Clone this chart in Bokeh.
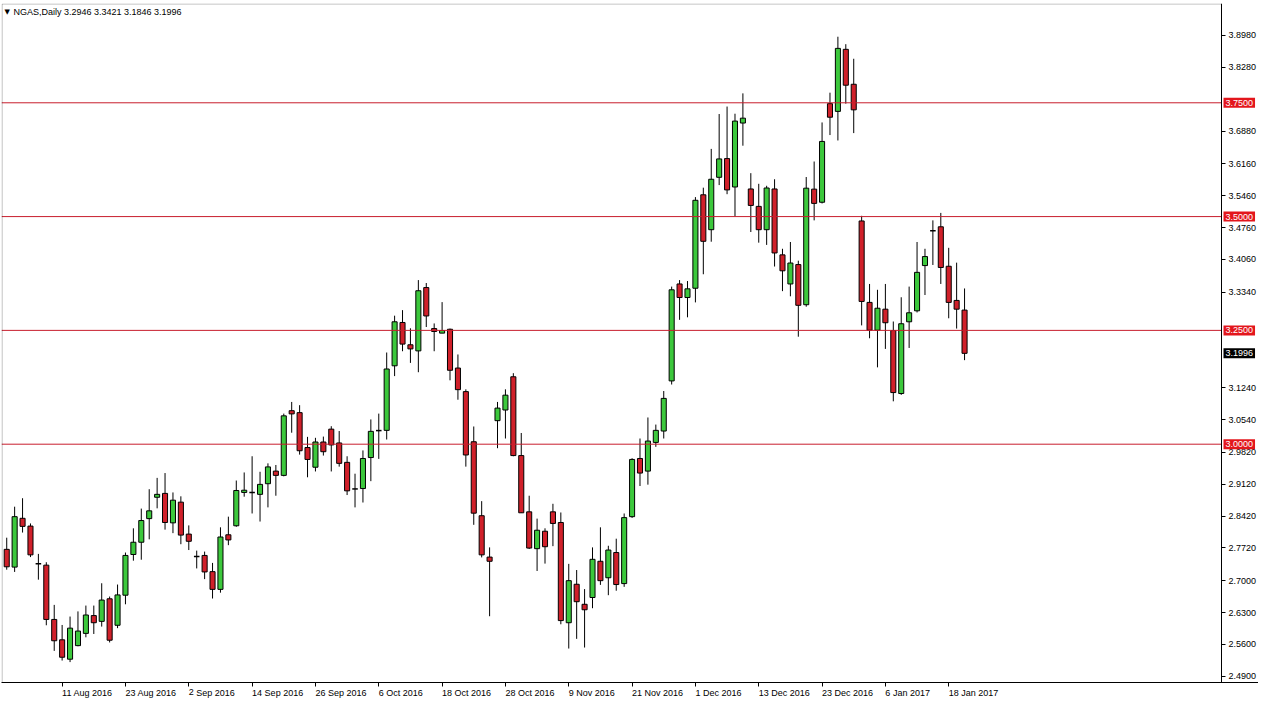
from bokeh.plotting import figure
from bokeh.models import (Label, FixedTicker, PrintfTickFormatter, ColumnDataSource,
                          Range1d, LinearAxis, BoxAnnotation)
from bokeh.embed import file_html
from bokeh.resources import INLINE

# ---- data (daily NGAS candles) ----
opens = [2.7690, 2.7300, 2.8372, 2.8201, 2.7371, 2.7343, 2.6150, 2.5703, 2.5277, 2.5575,
         2.5844, 2.6235, 2.6108, 2.6604, 2.6022, 2.6683, 2.7577, 2.7846, 2.8365, 2.8834,
         2.8919, 2.8272, 2.8727, 2.8025, 2.7535, 2.7556, 2.7200, 2.6811, 2.8010, 2.8208,
         2.8940, 2.8940, 2.8898, 2.9132, 2.9409, 2.9315, 3.0736, 3.0693, 2.9927, 2.9494,
         3.0048, 3.0331, 3.0027, 2.9601, 2.9017, 2.9026, 2.9707, 3.0299, 3.0304, 3.1722,
         3.2674, 3.2184, 3.2050, 3.3441, 3.2540, 3.2440, 3.2525, 3.1673, 3.1155, 3.0054,
         2.8429, 2.7520, 3.0517, 3.0751, 3.1481, 2.9750, 2.8514, 2.7705, 2.8088, 2.8514,
         2.8280, 2.6078, 2.6923, 2.6483, 2.6632, 2.7428, 2.7066, 2.7620, 2.6938, 2.8408,
         2.9686, 2.9409, 3.0039, 3.0289, 3.1390, 3.3520, 3.3222, 3.3426, 3.5479, 3.4712,
         3.5863, 3.6274, 3.5650, 3.7055, 3.5607, 3.5224, 3.4712, 3.5607, 3.4159, 3.3520,
         3.3946, 3.3064, 3.5603, 3.5315, 3.7481, 3.7311, 3.8674, 3.7907, 3.4904, 3.3115,
         3.2504, 3.2966, 3.2497, 3.1113, 3.2689, 3.2930, 3.3924, 3.4691, 3.4776, 3.3909,
         3.3158, 3.2946]
highs = [2.7946, 2.8627, 2.8813, 2.8259, 2.7590, 2.7407, 2.6470, 2.6029, 2.6214, 2.6327,
         2.6455, 2.6455, 2.6945, 2.6653, 2.6917, 2.7620, 2.8152, 2.8585, 2.9011, 2.9260,
         2.9366, 2.8940, 2.8855, 2.8216, 2.7662, 2.7641, 2.7392, 2.8174, 2.8408, 2.9202,
         2.9379, 2.9735, 2.9394, 2.9579, 2.9543, 3.0672, 3.0928, 3.0857, 3.0161, 3.0140,
         3.0167, 3.0395, 3.0289, 2.9735, 2.9352, 2.9863, 3.0544, 3.0672, 3.2014, 3.2823,
         3.2945, 3.2546, 3.3605, 3.3541, 3.2653, 3.3121, 3.2540, 3.1971, 3.1205, 3.0389,
         2.8749, 2.7733, 3.0928, 3.1205, 3.1560, 3.0246, 2.8868, 2.8365, 2.8152, 2.8691,
         2.8500, 2.7371, 2.7236, 2.6817, 2.7733, 2.8174, 2.7769, 2.7924, 2.8478, 2.9692,
         3.0125, 3.0587, 3.0431, 3.1168, 3.3462, 3.3605, 3.3584, 3.5428, 3.5635, 3.6487,
         3.7253, 3.7417, 3.7260, 3.7707, 3.5954, 3.5720, 3.5677, 3.5820, 3.4293, 3.4442,
         3.4031, 3.5869, 3.6210, 3.7068, 3.7722, 3.8951, 3.8787, 3.8467, 3.5017, 3.3520,
         3.3392, 3.3520, 3.2695, 3.3228, 3.3462, 3.4442, 3.4293, 3.4917, 3.5081, 3.4314,
         3.3988, 3.3421]
lows = [2.7243, 2.7194, 2.8059, 2.7520, 2.7024, 2.6022, 2.5460, 2.5247, 2.5213, 2.5560,
        2.5758, 2.5831, 2.5993, 2.5645, 2.5959, 2.6483, 2.7441, 2.7462, 2.7910, 2.8591,
        2.8123, 2.8046, 2.7803, 2.7675, 2.7271, 2.7036, 2.6610, 2.6738, 2.7782, 2.8186,
        2.8847, 2.8478, 2.8301, 2.8612, 2.8868, 2.9294, 3.0252, 2.9771, 2.9273, 2.9401,
        2.9750, 2.9401, 2.9507, 2.8883, 2.8612, 2.8719, 2.9188, 2.9677, 3.0103, 3.1496,
        3.2042, 3.1786, 3.1581, 3.2574, 3.2042, 3.2440, 3.1403, 3.0977, 2.9507, 2.8229,
        2.7513, 2.6221, 2.9912, 3.0125, 2.9735, 2.8493, 2.7697, 2.7215, 2.7377, 2.7760,
        2.6044, 2.5511, 2.5724, 2.5533, 2.6397, 2.6909, 2.6683, 2.6781, 2.6866, 2.8380,
        2.9081, 2.9111, 2.9942, 3.0125, 3.1311, 3.2732, 3.2787, 3.3115, 3.3733, 3.4448,
        3.5692, 3.5492, 3.5002, 3.6557, 3.4661, 3.4427, 3.4378, 3.3903, 3.3362, 3.3249,
        3.2361, 3.3021, 3.4917, 3.5288, 3.6791, 3.6672, 3.7481, 3.6834, 3.2610, 3.2327,
        3.1688, 3.2093, 3.0942, 3.1083, 3.2114, 3.2894, 3.3277, 3.3937, 3.3520, 3.2766,
        3.2540, 3.1846]
closes = [2.7307, 2.8408, 2.8195, 2.7569, 2.7371, 2.6150, 2.5682, 2.5320, 2.5959, 2.5895,
          2.6248, 2.6078, 2.6576, 2.5694, 2.6689, 2.7556, 2.7846, 2.8323, 2.8536, 2.8898,
          2.8280, 2.8770, 2.8003, 2.7867, 2.7535, 2.7194, 2.6811, 2.7961, 2.7897, 2.8983,
          2.8989, 2.8940, 2.9117, 2.9501, 2.9315, 3.0623, 3.0666, 2.9856, 2.9665, 3.0048,
          2.9835, 2.9984, 2.9579, 2.8975, 2.9017, 2.9686, 3.0282, 3.0299, 3.1652, 3.2689,
          3.2199, 3.2093, 3.3371, 3.2817, 3.2476, 3.2497, 3.1624, 3.1198, 2.9763, 2.8485,
          2.7569, 2.7428, 3.0793, 3.1077, 2.9750, 2.8493, 2.7718, 2.8110, 2.7748, 2.8259,
          2.6125, 2.7002, 2.6540, 2.6363, 2.7471, 2.7002, 2.7675, 2.6917, 2.8387, 2.9665,
          2.9366, 3.0069, 3.0304, 3.1006, 3.3392, 3.3222, 3.3413, 3.5358, 3.4457, 3.5820,
          3.6267, 3.5586, 3.7098, 3.7162, 3.5245, 3.4712, 3.5628, 3.4201, 3.3809, 3.3980,
          3.3051, 3.5624, 3.5290, 3.6651, 3.7183, 3.8695, 3.7886, 3.7345, 3.3136, 3.2504,
          3.2987, 3.2668, 3.1134, 3.2646, 3.2887, 3.3775, 3.4122, 3.4691, 3.3882, 3.3115,
          3.2966, 3.1996]

tick_bars = [7, 15, 23, 31, 39, 47, 55, 63, 71, 79, 87, 95, 103, 111, 119]
tick_labels = ["11 Aug 2016", "23 Aug 2016", "2 Sep 2016", "14 Sep 2016", "26 Sep 2016",
               "6 Oct 2016", "18 Oct 2016", "28 Oct 2016", "9 Nov 2016", "21 Nov 2016",
               "1 Dec 2016", "13 Dec 2016", "23 Dec 2016", "6 Jan 2017", "18 Jan 2017"]
price_ticks = [3.898, 3.828, 3.688, 3.616, 3.546, 3.476, 3.406, 3.334, 3.124, 3.054,
               2.982, 2.912, 2.842, 2.772, 2.700, 2.630, 2.560, 2.490]
level_lines = [3.75, 3.50, 3.25, 3.00]
last_price = 3.1996
title_text = "NGAS,Daily  3.2946 3.3421 3.1846 3.1996"

# ---- styling / geometry ----
FONT = "Liberation Sans"
GREEN = "#3CC83C"
RED = "#D0202A"
LINE_RED = "#C81E2D"
TAG_RED = "#E3161C"
W, H = 1258, 705
FRAME_W = W - 1            # frame spans the whole width; price scale sits inside it
AXIS_PX = 1220             # pixel position of the price axis inside the frame
X0 = -0.66
XA = 153.46                # data x of the price axis (right edge of the candle area)
PPB = AXIS_PX / (XA - X0)  # pixels per bar
X1 = X0 + FRAME_W / PPB
Y0, Y1 = 2.4765, 3.9681

p = figure(width=W, height=H, output_backend="svg", toolbar_location=None,
           x_range=Range1d(X0, X1), y_range=Range1d(Y0, Y1), y_axis_location=None,
           min_border_left=1, min_border_top=3, min_border_right=0, min_border_bottom=17)
p.grid.visible = False
p.outline_line_color = None
p.background_fill_color = "white"
p.border_fill_color = "white"

# border of the candle area
frame_eps = (Y1 - Y0) / 685 * 0.5
p.add_layout(BoxAnnotation(left=X0 + 0.07, right=XA, top=Y1 - frame_eps, bottom=Y0,
                           fill_color=None, line_color="black", line_width=1))

xs = list(range(len(opens)))
up = [i for i in xs if closes[i] > opens[i]]
dn = [i for i in xs if closes[i] < opens[i]]
dj = [i for i in xs if closes[i] == opens[i]]

wick_src = ColumnDataSource(dict(x=xs, low=lows, high=highs))
p.segment(x0="x", y0="low", x1="x", y1="high", source=wick_src, line_color="black", line_width=1)

up_src = ColumnDataSource(dict(x=up, top=[closes[i] for i in up], bottom=[opens[i] for i in up]))
dn_src = ColumnDataSource(dict(x=dn, top=[opens[i] for i in dn], bottom=[closes[i] for i in dn]))
p.vbar(x="x", top="top", bottom="bottom", width=0.64, source=up_src,
       fill_color=GREEN, line_color="black", line_width=1)
p.vbar(x="x", top="top", bottom="bottom", width=0.64, source=dn_src,
       fill_color=RED, line_color="black", line_width=1)
dj_src = ColumnDataSource(dict(x0=[i - 0.35 for i in dj], x1=[i + 0.35 for i in dj],
                               y=[opens[i] for i in dj]))
p.segment(x0="x0", y0="y", x1="x1", y1="y", source=dj_src, line_color="black", line_width=1.5)

# support / resistance lines (stop at the price axis)
lines_src = ColumnDataSource(dict(x0=[X0] * len(level_lines), x1=[XA] * len(level_lines),
                                  y=level_lines))
p.segment(x0="x0", y0="y", x1="x1", y1="y", source=lines_src, line_color=LINE_RED, line_width=1)

# price axis, fixed at the right edge of the candle area
yax = LinearAxis(ticker=FixedTicker(ticks=price_ticks),
                 formatter=PrintfTickFormatter(format="%.4f"), fixed_location=XA)
p.add_layout(yax, "right")

# x axis: labels start at their tick (tiny negative angle -> left aligned)
p.xaxis.ticker = FixedTicker(ticks=tick_bars)
p.xaxis.major_label_overrides = dict(zip(tick_bars, tick_labels))
p.xaxis.major_label_orientation = -0.0001
p.xaxis.major_label_standoff = 6

for ax in (p.xaxis[0], yax):
    ax.major_tick_out = 4
    ax.major_tick_in = 0
    ax.minor_tick_out = 0
    ax.minor_tick_in = 0
    ax.axis_line_color = "black"
    ax.major_tick_line_color = "black"
    ax.major_label_text_font = FONT
    ax.major_label_text_font_size = "9px"
    ax.major_label_text_color = "black"
yax.major_label_standoff = 3

# price tags over the price scale
def tag(price, bg):
    return Label(x=XA, y=price, x_offset=2, text=f"{price:.4f}", text_color="white",
                 text_font=FONT, text_font_size="9px", text_baseline="middle",
                 text_align="left", background_fill_color=bg, padding=2)

for lv in level_lines:
    p.add_layout(tag(lv, TAG_RED))
p.add_layout(tag(last_price, "black"))

# title
p.add_layout(Label(x=X0, y=Y1, x_offset=3, y_offset=-8, text="\u25bc", text_color="black",
                   text_font="DejaVu Sans", text_font_size="7px", text_baseline="middle"))
p.add_layout(Label(x=X0, y=Y1, x_offset=12, y_offset=-8, text=title_text, text_color="black",
                   text_font=FONT, text_font_size="9px", text_baseline="middle"))

open("out.html", "w").write(file_html(p, INLINE))
